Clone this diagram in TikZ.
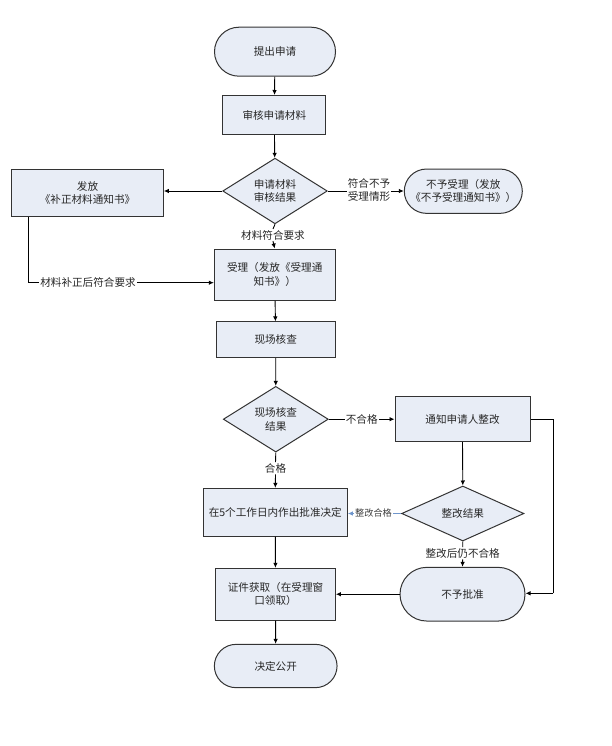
\documentclass[tikz,border=0pt]{standalone}
\usepackage{fontspec}
\setmainfont{Noto Sans CJK SC}
\usetikzlibrary{shapes.geometric,shapes.misc,arrows.meta}
\definecolor{boxfill}{HTML}{E8EDF6}
\definecolor{boxdraw}{HTML}{333333}
\definecolor{bluelink}{HTML}{6F96CC}
\tikzset{
  x=1pt,y=-1pt,
  every node/.style={font=\fontsize{10.6}{13.5}\selectfont, align=center, inner sep=0pt, text=black!85},
  procbox/.style={draw=boxdraw, fill=boxfill, line width=1pt, minimum width=#1},
  term/.style={draw=boxdraw, fill=boxfill, line width=1pt, rounded rectangle},
  decide/.style={draw=boxdraw, fill=boxfill, line width=1pt, diamond, inner sep=0pt},
  conn/.style={draw=black, line width=0.9pt, -{Latex[length=5pt,width=4.5pt]}},
  plain/.style={draw=black, line width=0.9pt},
  lbl/.style={fill=white, inner sep=1pt}
}
\begin{document}
\begin{tikzpicture}
\useasboundingbox (0,0) rectangle (612,746);
% nodes
\node[term, minimum width=121pt, minimum height=49pt] (start) at (275,51.7) {提出申请};
\node[procbox=103pt, minimum height=39pt] (review) at (274.3,115) {审核申请材料};
\node[decide, minimum width=104.6pt, minimum height=64.5pt] (d1) at (275,191) {申请材料\\审核结果};
\node[procbox=151.6pt, minimum height=46pt] (supp) at (87.5,193) {发放\\《补正材料通知书》};
\node[term, minimum width=118pt, minimum height=44.3pt] (reject1) at (463.3,191.2) {不予受理（发放\\《不予受理通知书》）};
\node[procbox=120.7pt, minimum height=51.3pt] (accept) at (274.7,274.7) {受理（发放《受理通\\知书》）};
\node[procbox=119.3pt, minimum height=35.7pt] (inspect) at (275.7,339.8) {现场核查};
\node[decide, minimum width=105pt, minimum height=62pt] (d2) at (275.8,419.2) {现场核查\\结果};
\node[procbox=135pt, minimum height=45pt] (notify) at (462.5,419.2) {通知申请人整改};
\node[procbox=144pt, minimum height=47.7pt] (decide5) at (275.3,512.2) {在5个工作日内作出批准决定};
\node[decide, minimum width=122.3pt, minimum height=55pt] (d3) at (462.8,513.5) {整改结果};
\node[procbox=119.7pt, minimum height=51.7pt] (cert) at (275.5,594.2) {证件获取（在受理窗\\口领取）};
\node[term, minimum width=125pt, minimum height=53.7pt] (reject2) at (462.5,594.2) {不予批准};
\node[term, minimum width=122.7pt, minimum height=43.3pt] (publish) at (275.7,666) {决定公开};
% label nodes
\node[lbl] (l1) at (273,235) {材料符合要求};
\node[lbl] (l2) at (369,190) {符合不予\\受理情形};
\node[lbl] (l3) at (88,282.7) {材料补正后符合要求};
\node[lbl] (l4) at (361.7,419.2) {不合格};
\node[lbl] (l5) at (275.5,468.3) {合格};
\node[lbl, font=\fontsize{9.2}{11}\selectfont, text=black!75] (l6) at (373.5,513.5) {整改合格};
\node[lbl] (l7) at (462.7,553.3) {整改后仍不合格};
\coordinate (c1) at (28.3,282.7);
\coordinate (c2) at (553.3,419.2);
\coordinate (c3) at (553.3,593.3);
% connectors
\draw[conn] (start) -- (review);
\draw[conn] (review) -- (d1);
\draw[conn] (d1.west) -- (d1.west -| supp.east);
\draw[plain] (d1.south) -- (l1.north);
\draw[conn] (l1.south) -- (accept.north);
\draw[plain] (d1.east) -- (d1.east -| l2.west);
\draw[conn] (d1.east -| l2.east) -- (d1.east -| reject1.west);
\draw[plain] (supp.south -| c1) -- (c1) -- (l3.west);
\draw[conn] (l3.east) -- (l3.east -| accept.west);
\draw[conn] (accept) -- (inspect);
\draw[conn] (inspect) -- (d2);
\draw[plain] (d2.east) -- (l4.west);
\draw[conn] (l4.east) -- (notify.west);
\draw[plain] (d2.south) -- (l5.north);
\draw[conn] (l5.south) -- (decide5.north);
\draw[conn] (notify.south) -- (d3.north);
\draw[plain, draw=bluelink] (d3.west) -- (l6.east);
\draw[line width=0.9pt, draw=bluelink, -{Latex[length=5pt,width=4.5pt]}] (l6.west) -- (l6.west -| decide5.east);
\draw[plain] (d3.south) -- (l7.north);
\draw[conn] (l7.south) -- (reject2.north);
\draw[plain] (notify.east) -- (c2) -- (c3);
\draw[conn] (c3) -- (c3 -| reject2.east);
\draw[conn] (reject2.west) -- (reject2.west -| cert.east);
\draw[conn] (decide5) -- (cert);
\draw[conn] (cert) -- (publish);
\end{tikzpicture}
\end{document}
